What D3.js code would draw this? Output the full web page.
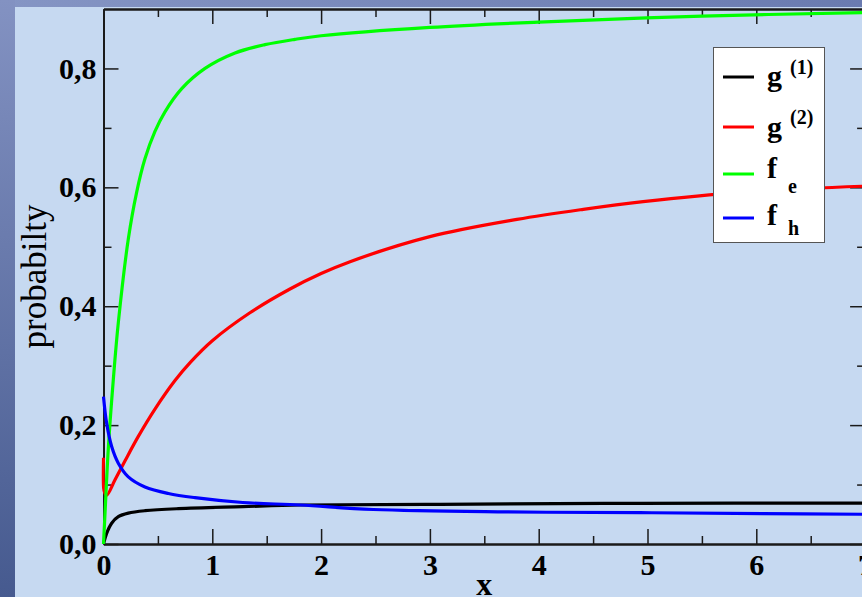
<!DOCTYPE html>
<html>
<head>
<meta charset="utf-8">
<script src="https://cdn.jsdelivr.net/npm/d3@7"></script>
<style>
  body { margin: 0; background: #c6d9f1; }
  svg { display: block; }
</style>
</head>
<body>
<svg id="chart" width="862" height="597"></svg>
<script>
// values
const g1X = [0, 0.029, 0.075, 0.136, 0.228, 0.381, 0.688, 1.28, 1.81, 3.09, 4.93, 7.0];
const g1Y = [0, 0.018, 0.035, 0.046, 0.052, 0.056, 0.0594, 0.0628, 0.0656, 0.0667, 0.0685, 0.0688];

const g2X = [0, 0.005, 0.029, 0.106, 0.198, 0.32, 0.473, 0.657, 0.8, 1.0, 1.346, 1.714, 2.0, 2.266, 3.0, 3.8, 4.41, 4.96, 5.88, 7.0];
const g2Y = [0.145, 0.09, 0.082, 0.108, 0.140, 0.181, 0.227, 0.275, 0.306, 0.342, 0.389, 0.429, 0.455, 0.475, 0.517, 0.546, 0.563, 0.576, 0.592, 0.602];

const feX = [0, 0.014, 0.044, 0.09, 0.136, 0.228, 0.305, 0.381, 0.473, 0.565, 0.719, 0.933, 1.209, 1.484, 1.76, 2.0, 3.0, 4.0, 5.5, 7.0];
const feY = [0, 0.052, 0.16, 0.276, 0.372, 0.513, 0.592, 0.648, 0.694, 0.727, 0.766, 0.800, 0.826, 0.840, 0.849, 0.855, 0.869, 0.878, 0.888, 0.894];

const fhX = [0, 0.029, 0.075, 0.136, 0.228, 0.381, 0.596, 0.841, 1.28, 1.81, 2.48, 3.71, 4.93, 6.06, 7.0];
const fhY = [0.248, 0.203, 0.164, 0.136, 0.113, 0.096, 0.085, 0.078, 0.0698, 0.0656, 0.058, 0.054, 0.0527, 0.051, 0.050];

const xTicks = [0, 1, 2, 3, 4, 5, 6, 7];
const xTickLabels = ["0", "1", "2", "3", "4", "5", "6", "7"];
const yTicks = [0, 0.2, 0.4, 0.6, 0.8];
const yTickLabels = ["0,0", "0,2", "0,4", "0,6", "0,8"];

const series = [
    {name: "g", sup: "(1)", sub: null, color: "#000000", xs: g1X, ys: g1Y},
    {name: "g", sup: "(2)", sub: null, color: "#ff0000", xs: g2X, ys: g2Y},
    {name: "f", sup: null, sub: "e", color: "#00ff00", xs: feX, ys: feY},
    {name: "f", sup: null, sub: "h", color: "#0000ff", xs: fhX, ys: fhY}
];

const svg = d3.select("#chart");
const font = "'Liberation Serif', 'Times New Roman', serif";

// slide background
const defs = svg.append("defs");
const leftGrad = defs.append("linearGradient").attr("id", "leftGrad")
    .attr("x1", 0).attr("y1", 0).attr("x2", 0).attr("y2", 1);
leftGrad.append("stop").attr("offset", "0%").attr("stop-color", "#8392c2");
leftGrad.append("stop").attr("offset", "100%").attr("stop-color", "#465a8f");
const topGrad = defs.append("linearGradient").attr("id", "topGrad")
    .attr("x1", 0).attr("y1", 0).attr("x2", 1).attr("y2", 0);
topGrad.append("stop").attr("offset", "0%").attr("stop-color", "#8595c4");
topGrad.append("stop").attr("offset", "100%").attr("stop-color", "#6a7bb0");

svg.append("rect").attr("width", 862).attr("height", 597).attr("fill", "#c6d9f1");
svg.append("rect").attr("width", 862).attr("height", 7).attr("fill", "url(#topGrad)");
svg.append("rect").attr("width", 15).attr("height", 597).attr("fill", "url(#leftGrad)");

const margin = {left: 103.5, top: 9, bottom: 544, right: 865.1};

const x = d3.scaleLinear().domain([0, 7]).range([margin.left, margin.right]);
const y = d3.scaleLinear().domain([0, 0.9]).range([margin.bottom, margin.top]);

defs.append("clipPath").attr("id", "plotClip")
  .append("rect")
    .attr("x", margin.left - 2).attr("y", margin.top)
    .attr("width", margin.right - margin.left + 2)
    .attr("height", margin.bottom - margin.top + 1);

// axes: frame with inward ticks
const xMinor = d3.range(0.5, 7, 1);
const yMinor = d3.range(0.1, 0.9, 0.2);

function styleAxis(g) {
    g.select(".domain").attr("stroke", "#1a1a1a").attr("stroke-width", 2);
    g.selectAll(".tick line").attr("stroke", "#1a1a1a").attr("stroke-width", 1.5);
    g.selectAll("text")
        .attr("font-family", font)
        .attr("font-weight", "bold")
        .attr("font-size", 30)
        .attr("fill", "#000");
}

svg.append("g").attr("transform", `translate(0,${margin.bottom})`)
    .call(d3.axisBottom(x).tickValues(xTicks).tickSizeInner(-15).tickSizeOuter(0)
        .tickPadding(10).tickFormat((d, i) => xTickLabels[i]))
    .call(styleAxis);
svg.append("g").attr("transform", `translate(0,${margin.bottom})`)
    .call(d3.axisBottom(x).tickValues(xMinor).tickSizeInner(-8).tickSizeOuter(0).tickFormat(""))
    .call(styleAxis);

svg.append("g").attr("transform", `translate(0,${margin.top})`)
    .call(d3.axisTop(x).tickValues(xTicks).tickSizeInner(-15).tickSizeOuter(0).tickFormat(""))
    .call(styleAxis);
svg.append("g").attr("transform", `translate(0,${margin.top})`)
    .call(d3.axisTop(x).tickValues(xMinor).tickSizeInner(-8).tickSizeOuter(0).tickFormat(""))
    .call(styleAxis);

svg.append("g").attr("transform", `translate(${margin.left},0)`)
    .call(d3.axisLeft(y).tickValues(yTicks).tickSizeInner(-15).tickSizeOuter(0)
        .tickPadding(7).tickFormat((d, i) => yTickLabels[i]))
    .call(styleAxis);
svg.append("g").attr("transform", `translate(${margin.left},0)`)
    .call(d3.axisLeft(y).tickValues(yMinor).tickSizeInner(-8).tickSizeOuter(0).tickFormat(""))
    .call(styleAxis);

svg.append("g").attr("transform", `translate(${margin.right},0)`)
    .call(d3.axisRight(y).tickValues(yTicks).tickSizeInner(-15).tickSizeOuter(0).tickFormat(""))
    .call(styleAxis);
svg.append("g").attr("transform", `translate(${margin.right},0)`)
    .call(d3.axisRight(y).tickValues(yMinor).tickSizeInner(-8).tickSizeOuter(0).tickFormat(""))
    .call(styleAxis);

// curves (drawn over the frame, as in the original)
const line = d3.line()
    .x(d => x(d[0]))
    .y(d => y(d[1]))
    .curve(d3.curveCatmullRom.alpha(0.5));

svg.append("g").attr("clip-path", "url(#plotClip)")
  .selectAll("path")
  .data(series)
  .enter().append("path")
    .attr("d", s => line(s.xs.map((v, i) => [v, s.ys[i]])))
    .attr("fill", "none")
    .attr("stroke", s => s.color)
    .attr("stroke-width", 3.2)
    .attr("stroke-linejoin", "round");

// axis titles
svg.append("text")
    .attr("x", x(3.5)).attr("y", 595)
    .attr("text-anchor", "middle")
    .attr("font-family", font).attr("font-weight", "bold").attr("font-size", 32)
    .text("x");

svg.append("text")
    .attr("transform", `translate(46,${(margin.top + margin.bottom) / 2}) rotate(-90)`)
    .attr("text-anchor", "middle")
    .attr("font-family", font).attr("font-size", 35)
    .text("probabilty");

// legend
const legend = svg.append("g");
legend.append("rect")
    .attr("x", 713.5).attr("y", 47.5).attr("width", 111).attr("height", 195)
    .attr("fill", "#ffffff").attr("stroke", "#555").attr("stroke-width", 1);

const rowY = [77, 127, 174, 218];
const baseY = [86, 137, 178, 225];
const scriptY = [74, 124, 193, 235];

series.forEach((s, i) => {
    legend.append("line")
        .attr("x1", 723).attr("x2", 754)
        .attr("y1", rowY[i]).attr("y2", rowY[i])
        .attr("stroke", s.color).attr("stroke-width", 3);
    legend.append("text")
        .attr("x", 767).attr("y", baseY[i])
        .attr("font-family", font).attr("font-weight", "bold").attr("font-size", 30)
        .text(s.name);
    legend.append("text")
        .attr("x", s.sup ? 790 : 788).attr("y", scriptY[i])
        .attr("font-family", font).attr("font-weight", "bold").attr("font-size", 20)
        .text(s.sup || s.sub);
});
</script>
</body>
</html>
